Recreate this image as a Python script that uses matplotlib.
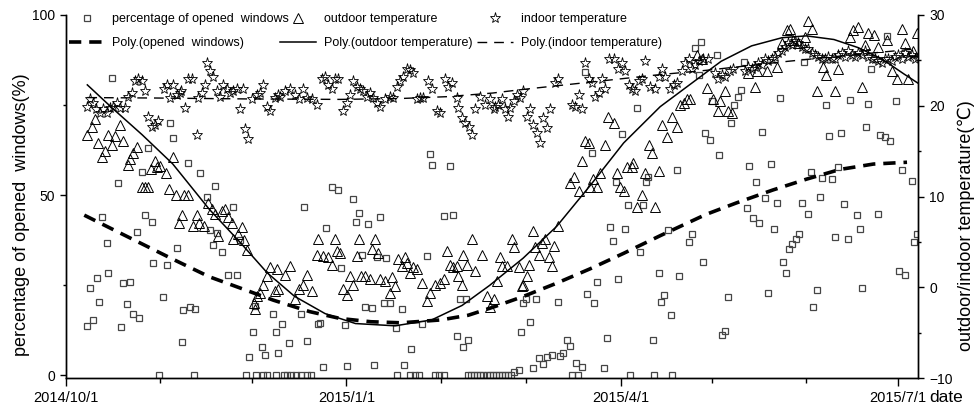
import datetime
import numpy as np
import matplotlib
matplotlib.use("Agg")
import matplotlib.pyplot as plt
import matplotlib.dates as mdates
from matplotlib.ticker import FixedLocator, FuncFormatter

plt.rcParams['font.family'] = ['Liberation Sans', 'DejaVu Sans']

# days counted from 2014/10/1
win_days = [6.8, 7.9, 9.0, 10.1, 10.9, 11.7, 13.3, 13.9, 15.0, 17.2, 17.9, 18.8, 19.9, 21.0, 21.9,
            23.2, 23.9, 24.8, 25.9, 27.0, 28.1, 28.7, 30.5, 31.9, 33.0, 34.1, 35.2, 36.3, 38.0, 38.5,
            40.2, 40.8, 42.0, 42.3, 44.0, 46.2, 47.3, 48.4, 48.9, 49.4, 51.1, 53.3, 54.9, 56.0, 57.1,
            59.0, 60.2, 61.3, 62.0, 62.5, 64.2, 64.5, 65.3, 66.0, 68.0, 68.9, 69.0, 69.7, 71.0, 71.5,
            72.5, 73.2, 74.0, 75.5, 77.0, 77.1, 78.2, 79.0, 79.2, 80.5, 82.6, 83.2, 84.5, 85.2, 87.2,
            89.2, 90.2, 91.4, 92.3, 94.3, 95.2, 96.2, 97.3, 98.1, 99.0, 100.3, 101.1, 102.0, 103.1, 104.2,
            105.0, 106.3, 108.2, 108.5, 110.2, 111.0, 113.0, 113.2, 114.5, 116.0, 116.7, 118.4, 119.5, 120.2, 121.0,
            122.5, 124.0, 124.2, 126.0, 127.1, 128.2, 129.3, 130.2, 131.2, 131.8, 132, 133, 134, 135, 136,
            137, 138, 139, 140, 141, 142, 143, 144, 145, 146, 146.9, 148.5, 149.3, 150.1, 151.0,
            152.3, 153.4, 154.3, 155.1, 156.7, 157.8, 159.4, 161.4, 162.2, 163.1, 164.4, 165.5, 166, 167.4, 168,
            169.3, 170.4, 171.1, 172.6, 173.4, 174.2, 176.4, 177.5, 178.4, 179.5, 180.6, 181.3, 182.4, 183.5, 184.3,
            185, 187.3, 188.4, 189.5, 190.4, 191.0, 192.5, 193, 194.5, 195.3, 196.1, 197.4, 198.5, 199, 200.5,
            201.3, 204.5, 205.4, 206.5, 207.6, 208.4, 209.2, 209.7, 211.3, 211.9, 213.5, 214.4, 215.4, 216.3, 217.4,
            218.2, 219.3, 220.4, 221.5, 222.6, 223.4, 224.2, 225.6, 226.3, 227.4, 228.3, 229.4, 230.3, 231.4, 232.5,
            233.2, 234.3, 235.4, 236.2, 237.4, 238.4, 239.5, 240.6, 241.4, 242.3, 243.4, 244.5, 245.3, 246.4, 247.4,
            248.2, 249.4, 250.4, 251.3, 252.4, 253.2, 254.3, 255.4, 256.5, 257.3, 259.5, 260.6, 261.3, 262.5, 263.3,
            264.2, 266.4, 267.1, 268.8, 269.3, 270.4, 272.3, 273.5, 274.5, 275.3, 277.5, 278.4, 279.4]
win_pct = [13.6, 24.1, 15.3, 26.9, 20.4, 44.0, 36.6, 28.2, 82.4, 53.2, 13.4, 25.5, 19.7, 25.9, 16.9,
           39.8, 15.7, 56.5, 44.4, 63.0, 42.6, 31.0, 0, 21.6, 30.6, 69.9, 65.7, 35.2, 9.3, 18.1,
           58.8, 19.0, 0, 18.3, 56.0, 49.5, 40.3, 36.1, 52.5, 39.4, 34.3, 27.8, 46.8, 27.8, 37.5,
           0, 4.9, 11.9, 19.3, 0, 7.7, 0, 5.6, 0, 16.9, 11.9, 0, 6.0, 14.1, 0,
           0, 9.0, 0, 0, 0, 16.9, 46.8, 0, 9.4, 0, 14.1, 14.4, 2.3, 40.7, 52.3,
           51.4, 29.8, 13.9, 2.5, 48.9, 42.6, 45.1, 33.3, 19.0, 41.9, 18.5, 2.7, 32.9, 44.0, 20.1,
           32.6, 20.1, 13.0, 0, 18.2, 2.8, 0, 7.2, 0, 0, 14.1, 33.1, 61.4, 58.3, 0,
           0, 0, 44.2, 58.1, 44.4, 10.8, 21.0, 7.9, 21.0, 9.7, 0, 0, 0, 0, 0,
           0, 0, 0, 0, 0, 0, 0, 0, 0, 0, 0.9, 1.4, 12.0, 19.9, 21.0,
           14.8, 1.9, 21.0, 4.6, 3.1, 5.1, 5.6, 20.2, 5.4, 6.0, 9.7, 8.1, 0, 3.2, 0,
           2.3, 84.3, 22.5, 61.6, 20.1, 25.9, 2.0, 10.2, 41.2, 37.2, 53.7, 26.6, 66.9, 40.6, 47.2,
           0, 74.1, 34.3, 47.2, 53.7, 55.1, 9.7, 0, 28.2, 20.4, 22.2, 40.3, 16.7, 0, 56.9,
           27.5, 37.0, 39.2, 90.7, 83.3, 92.4, 31.5, 67.1, 65.3, 76.2, 88.9, 61.1, 11.1, 12.3, 21.6,
           69.9, 75.0, 77.1, 79.2, 87.0, 46.3, 58.1, 43.7, 53.5, 42.1, 67.6, 49.1, 22.9, 58.5, 40.5,
           47.7, 76.9, 31.3, 28.2, 35.1, 36.3, 37.7, 39.2, 47.9, 87.0, 44.7, 56.5, 18.8, 23.6, 49.5,
           54.6, 75.0, 66.4, 54.4, 38.4, 57.9, 67.3, 47.4, 37.8, 76.4, 44.4, 40.6, 24.1, 69.0, 75.3,
           84.9, 44.7, 66.7, 66.0, 94.2, 65.1, 76.2, 28.9, 56.9, 27.8, 54.0, 37.0, 39.2]

out_days = [6.8, 8.4, 9.5, 10.6, 11.7, 12.8, 13.9, 15.0, 16.1, 17.7, 18.8, 20.5, 21.0, 21.9, 23.4,
            24.8, 25.9, 27.0, 27.8, 29.2, 30.0, 30.9, 32.8, 33.9, 35.0, 36.1, 37.0, 38.0, 38.7, 40.2,
            41.8, 42.9, 43.8, 45.3, 46.7, 47.8, 48.9, 50.0, 51.1, 52.2, 53.3, 54.4, 54.9, 56.6, 57.7,
            58.4, 59.5, 61.7, 62.0, 62.6, 63.7, 64.8, 65.9, 67.0, 68.6, 69.1, 69.7, 71.9, 73.5, 75.2,
            76.3, 77.9, 79.0, 80.6, 82.3, 82.8, 84.5, 86.1, 87.2, 88.3, 88.8, 89.9, 91.0, 92.1, 93.2,
            94.3, 95.4, 96.0, 96.8, 98.1, 99.8, 100.3, 101.4, 102.5, 103.1, 104.7, 106.3, 106.9, 108.0, 109.1,
            110.2, 111.3, 111.8, 112.9, 114.0, 115.1, 116.7, 118.4, 119.5, 121.1, 122.8, 123.9, 125.0, 126.0, 127.1,
            128.2, 128.8, 129.9, 130.4, 131.5, 133.2, 134.2, 136.4, 138.1, 139.2, 140.3, 141.4, 142.5, 143.0, 144.7,
            146.3, 146.9, 148.5, 149.6, 150.1, 151.2, 152.1, 153.2, 154.0, 155.1, 156.2, 157.3, 158.4, 159.4, 160.2,
            161.6, 165.5, 166.6, 168.2, 169.3, 170.4, 171.5, 172.0, 173.1, 174.2, 175.3, 176.9, 178.0, 179.7, 180.8,
            181.9, 183.0, 184.1, 185.7, 186.2, 187.3, 189.0, 190.1, 191.2, 192.3, 193.4, 194.5, 195.5, 197.2, 198.8,
            200.5, 201.6, 202.7, 203.8, 204.8, 207.0, 208.7, 210.3, 212.4, 214.1, 214.6, 216.3, 217.4, 218.5, 223.9,
            226.1, 226.7, 230.0, 233.2, 234.9, 236.5, 237.6, 238.7, 240.3, 242.5, 243.6, 244.7, 246.3, 248.5, 249.3,
            252.4, 253.5, 257.3, 258.4, 260.0, 261.1, 262.2, 263.3, 265.0, 266.6, 269.3, 271.0, 272.6, 274.3, 275.3,
            276.4, 278.1, 279.2]
out_temp = [16.8, 17.7, 18.5, 15.9, 14.4, 15.0, 16.8, 15.7, 16.7, 17.9, 16.1, 13.5, 14.1, 14.8, 15.5,
            11.1, 11.1, 11.1, 13.0, 13.9, 13.2, 13.4, 12.6, 10.8, 14.4, 10.2, 7.1, 8.0, 10.2, 10.2,
            6.7, 8.0, 7.1, 6.8, 9.3, 8.6, 8.1, 5.6, 8.4, 8.6, 7.7, 7.1, 5.3, 5.9, 6.6,
            5.2, 4.1, -1.7, -2.4, -1.0, -0.6, 0.3, 1.2, 2.2, -0.4, 2.0, -0.2, 1.4, 2.3, -1.3,
            -0.2, 0.3, 1.4, -0.4, 3.6, 5.3, 3.4, 3.3, 2.5, 5.3, 4.0, 3.8, -0.2, -0.8, 1.2,
            0.3, 3.4, 5.3, 1.2, 1.2, 0.9, 4.2, 5.3, 3.8, 0.9, 0.7, -0.6, 1.1, 0.1, 3.1,
            2.3, 3.3, 2.7, 1.6, 2.2, 2.0, 0.5, -1.5, -0.6, 0.3, 0.5, 0.9, 4.0, 2.5, 2.2,
            2.3, 1.2, 0.3, 3.6, 2.5, 5.3, 1.8, 3.6, -1.0, -2.2, -1.3, 0.7, 3.3, 2.3, 2.3,
            5.3, 4.4, 2.2, 0.1, 0.3, 1.2, 2.5, 6.2, 4.4, 3.6, 4.9, 5.3, 3.3, 2.3, 4.5,
            6.7, 11.5, 12.1, 10.6, 13.9, 16.1, 15.9, 11.0, 11.9, 11.1, 12.6, 15.7, 18.8, 18.1, 12.6,
            11.1, 10.6, 13.2, 13.3, 13.7, 8.8, 10.2, 12.6, 15.7, 14.8, 8.8, 12.8, 17.9, 16.6, 18.8,
            17.7, 20.1, 20.3, 20.7, 20.7, 25.6, 25.1, 22.0, 20.7, 19.4, 20.5, 21.6, 19.4, 19.2, 23.6,
            22.1, 23.8, 23.8, 24.3, 26.9, 28.4, 28.5, 27.3, 26.9, 27.6, 29.3, 28.5, 21.6, 24.3, 23.4,
            21.6, 24.1, 27.6, 28.4, 28.7, 22.1, 26.7, 28.0, 27.8, 26.5, 27.3, 23.8, 23.0, 28.5, 26.9,
            23.0, 26.0, 28.0]

in_days = [6.8, 7.9, 9.0, 10.0, 11.2, 12.3, 13.3, 14.4, 15.5, 16.6, 17.7, 19.4, 20.5, 21.6, 22.6,
           23.7, 24.8, 25.9, 27.0, 28.1, 29.2, 30.3, 32.0, 33.0, 34.1, 35.2, 36.3, 37.4, 37.9, 39.0,
           40.2, 41.3, 42.9, 43.4, 44.5, 45.6, 46.2, 47.3, 48.4, 49.4, 50.5, 51.6, 52.7, 53.8, 54.9,
           56.0, 57.1, 58.0, 58.9, 59.8, 60.9, 62.6, 63.7, 64.8, 65.9, 67.0, 68.6, 69.7, 70.2, 71.9,
           73.5, 75.2, 76.3, 77.9, 79.0, 80.6, 82.3, 83.9, 85.0, 86.1, 87.2, 88.3, 89.4, 91.0, 92.1,
           93.2, 94.3, 95.4, 96.5, 97.6, 98.7, 99.8, 100.9, 102.0, 103.1, 104.7, 106.3, 107.4, 108.5, 109.6,
           110.7, 111.8, 112.9, 114.0, 115.1, 116.2, 117.3, 118.9, 120.0, 121.7, 122.8, 124.4, 125.5, 126.6, 128.2,
           128.8, 129.9, 131.0, 132.1, 133.2, 134.2, 135.9, 137.5, 139.2, 140.3, 140.8, 141.9, 143.0, 144.1, 145.2,
           145.8, 146.9, 147.9, 149.0, 150.1, 151.2, 152.3, 153.4, 154.5, 155.6, 156.7, 157.8, 158.9, 160.5, 161.6,
           166.0, 167.1, 168.2, 169.3, 170.4, 171.5, 172.6, 173.7, 174.8, 175.9, 177.0, 178.1, 179.7, 181.3, 182.4,
           183.5, 184.6, 185.7, 186.8, 187.9, 189.0, 190.1, 191.7, 193.4, 194.5, 195.5, 196.6, 198.3, 199.4, 200.5,
           202.1, 203.2, 204.3, 205.4, 206.5, 207.6, 209.2, 210.8, 213.0, 214.1, 215.2, 216.3, 217.9, 219.0, 222.8,
           223.9, 225.0, 226.1, 227.2, 228.3, 229.4, 230.5, 231.6, 232.7, 233.8, 234.9, 236.0, 237.1, 238.1, 239.2,
           240.3, 241.4, 242.5, 243.6, 244.7, 245.8, 246.9, 248.0, 249.1, 250.2, 251.3, 252.4, 253.5, 254.6, 255.7,
           256.7, 257.8, 258.9, 260.0, 261.1, 262.2, 263.3, 264.4, 265.5, 266.6, 267.7, 268.8, 269.9, 271.0, 272.1,
           273.2, 274.3, 275.3, 276.4, 277.5, 278.6, 279.7]
in_temp = [19.9, 20.7, 20.3, 19.6, 19.2, 19.6, 19.2, 19.7, 19.9, 20.3, 19.7, 19.7, 21.0, 21.4, 22.7,
           22.9, 22.7, 21.6, 18.8, 17.7, 17.9, 18.3, 21.8, 22.3, 20.8, 22.3, 21.2, 21.4, 21.6, 19.7,
           23.0, 22.9, 16.8, 20.8, 21.4, 22.3, 24.7, 23.8, 23.2, 21.6, 21.0, 22.3, 21.9, 21.4, 21.6,
           21.9, 19.6, 21.8, 17.4, 16.3, 20.7, 21.2, 21.4, 22.3, 19.9, 19.4, 20.8, 21.2, 21.0, 21.6,
           21.8, 21.2, 20.7, 21.8, 20.8, 20.7, 20.1, 22.9, 23.2, 22.3, 21.8, 22.9, 23.0, 19.4, 20.3,
           21.2, 22.7, 22.1, 21.8, 21.6, 21.0, 21.4, 20.8, 20.3, 19.9, 20.7, 21.0, 20.8, 22.1, 22.7,
           23.2, 24.1, 23.9, 23.6, 20.7, 20.8, 20.8, 22.7, 21.8, 19.4, 19.2, 22.9, 22.1, 22.5, 20.8,
           19.7, 18.6, 18.1, 17.7, 16.8, 19.6, 21.0, 20.1, 20.7, 19.6, 19.9, 20.1, 20.7, 19.6, 18.8,
           19.7, 20.5, 21.2, 20.8, 21.6, 18.8, 19.6, 17.9, 17.0, 15.9, 18.6, 17.5, 19.6, 22.5, 22.9,
           20.1, 19.9, 21.2, 19.6, 24.7, 23.0, 22.5, 21.0, 21.4, 23.0, 21.9, 25.1, 25.1, 24.1, 24.7,
           23.8, 22.3, 21.9, 21.6, 22.7, 22.9, 24.9, 22.1, 21.8, 23.2, 24.0, 23.2, 21.8, 22.3, 22.5,
           23.8, 24.7, 25.1, 24.1, 24.5, 24.9, 25.2, 25.1, 23.6, 23.0, 23.4, 23.2, 23.8, 24.1, 23.8,
           24.3, 24.0, 24.3, 24.7, 24.5, 25.1, 24.9, 25.2, 25.4, 25.8, 26.0, 26.5, 26.9, 26.7, 27.1,
           26.9, 26.5, 26.3, 26.2, 25.8, 25.6, 25.4, 25.1, 25.2, 25.4, 25.1, 25.2, 25.6, 25.8, 25.4,
           26.0, 25.6, 25.4, 25.8, 25.6, 26.0, 25.4, 25.1, 25.2, 24.9, 24.7, 25.1, 25.2, 24.9, 25.4,
           25.6, 25.2, 25.8, 25.4, 25.6, 25.1, 25.4]

# trend lines ("Poly.")
win_trend_days = [6, 15, 25, 35, 47, 58, 68, 80, 90, 100, 110, 123, 132, 140, 150, 161, 172, 183,
                  195, 210, 220, 232, 243, 254, 265, 276]
win_trend = [44.4, 40.6, 36.4, 32.2, 27.3, 23.9, 20.8, 17.6, 15.7, 14.8, 14.5, 15.3, 16.6, 18.8,
             21.8, 25.5, 29.5, 33.8, 38.7, 44.6, 47.8, 51.4, 54.4, 57.1, 58.6, 59.1]
out_trend_days = [7, 15, 25, 35, 47, 57, 66, 75, 85, 95, 108, 120, 130, 139, 150, 161, 172, 183,
                  195, 205, 215, 225, 235, 243, 252, 260, 268, 275, 280]
out_trend = [22.3, 19.8, 16.8, 13.6, 8.6, 5.0, 1.6, -1.0, -2.9, -4.0, -4.25, -3.6, -2.0, 0.2,
             3.2, 6.7, 11.2, 15.9, 19.9, 22.4, 24.9, 26.6, 27.5, 27.7, 27.3, 26.4, 25.1, 23.5, 22.4]
in_trend_days = [7, 30, 60, 90, 110, 125, 140, 150, 172, 194, 210, 237, 258, 280]
in_trend = [20.9, 20.85, 20.75, 20.7, 20.8, 21.0, 21.4, 21.8, 22.6, 23.4, 23.9, 24.9, 25.6, 26.3]

t0 = mdates.date2num(datetime.date(2014, 10, 1))

fig = plt.figure(figsize=(9.76, 4.09), dpi=100)
ax = fig.add_axes([66/976, 1 - 378/409, 852/976, 363/409])
ax2 = ax.twinx()

sq, = ax.plot(t0 + np.array(win_days), win_pct, ls='none', marker='s', ms=5, mfc='none',
              mec='#454545', mew=0.9)
pw, = ax.plot(t0 + np.array(win_trend_days), win_trend, color='black', lw=2.6, ls=(0, (3.4, 2.2)))
tri, = ax2.plot(t0 + np.array(out_days), out_temp, ls='none', marker='^', ms=7, mfc='none',
                mec='black', mew=0.7)
star, = ax2.plot(t0 + np.array(in_days), in_temp, ls='none', marker='*', ms=8, mfc='none',
                 mec='black', mew=0.6)
po, = ax2.plot(t0 + np.array(out_trend_days), out_trend, color='black', lw=1.1)
pi, = ax2.plot(t0 + np.array(in_trend_days), in_trend, color='black', lw=1.0, ls=(0, (7, 5)))

ax.set_xlim(t0, t0 + 279.6)
ax.set_ylim(-0.83, 100)
ax2.set_ylim(-10, 30)

ax.xaxis.set_major_locator(mdates.MonthLocator(bymonth=[1, 4, 7, 10]))
ax.xaxis.set_minor_locator(mdates.MonthLocator())


def fmt_date(v, pos):
    d = mdates.num2date(v)
    return f"{d.year}/{d.month}/{d.day}"


ax.xaxis.set_major_formatter(FuncFormatter(fmt_date))
ax.set_yticks([0, 50, 100])
ax.yaxis.set_minor_locator(FixedLocator([25, 75]))
ax2.set_yticks([-10, 0, 10, 20, 30])
ax2.yaxis.set_minor_locator(FixedLocator([-5, 5, 15, 25]))

ax.tick_params(axis='x', which='major', length=6, width=1, labelsize=10.5, pad=3)
ax.tick_params(axis='x', which='minor', length=3.5, width=1)
ax.tick_params(axis='y', which='major', length=4.5, width=1, labelsize=10)
ax.tick_params(axis='y', which='minor', length=2.5, width=1)
ax2.tick_params(axis='y', which='major', length=4.5, width=1, labelsize=10)
ax2.tick_params(axis='y', which='minor', length=2.5, width=1)

for a in (ax, ax2):
    a.spines['top'].set_visible(False)
    for s in ('left', 'right', 'bottom'):
        a.spines[s].set_linewidth(1.0)

ax.set_ylabel('percentage of opened  windows(%)', fontsize=13)
ax.yaxis.set_label_coords(-0.042, 0.45)
ax2.set_ylabel('outdoor/indoor temperature(\u2103)', fontsize=13)
ax2.yaxis.set_label_coords(1.046, 0.42)
ax.text(1.033, -0.055, 'date', transform=ax.transAxes, fontsize=12.5, ha='center', va='center')

# legend: first column on its own, the other two columns together
leg_opts = dict(loc='upper left', frameon=False, fontsize=9, handlelength=2.9,
                handletextpad=0.6, borderaxespad=0, borderpad=0.2, labelspacing=0.95)
leg1 = ax2.legend([sq, pw], ['percentage of opened  windows', 'Poly.(opened  windows)'],
                  bbox_to_anchor=(0.0, 1.012), **leg_opts)
ax2.add_artist(leg1)
ax2.legend([tri, po, star, pi],
           ['outdoor temperature', 'Poly.(outdoor temperature)',
            'indoor temperature', 'Poly.(indoor temperature)'],
           ncol=2, columnspacing=0.4, bbox_to_anchor=(0.248, 1.012), **leg_opts)

fig.savefig('out.png', dpi=100)
